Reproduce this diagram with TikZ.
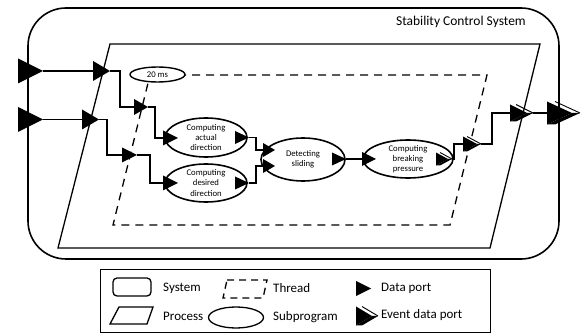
\documentclass[tikz,border=0pt]{standalone}
\usepackage{fontspec}
\setmainfont{Carlito}
\usetikzlibrary{shapes.geometric,calc}
\newcommand{\EvTail}[2]{%
  \fill (#1.right corner) -- (#1.apex) -- ([xshift=#2]#1.apex) -- ([xshift=#2]#1.right corner) -- cycle;
  \draw[line width=0.9pt] ([xshift=#2]#1.left corner) -- ([xshift=#2]#1.apex);
}
\begin{document}
\begin{tikzpicture}[x=1pt,y=-1pt,
  sub/.style={draw,ellipse,line width=1.6pt,fill=white,inner sep=0pt},
  lbl/.style={align=center,inner sep=0pt,font=\fontsize{8.7}{10.3}\selectfont},
  leg/.style={anchor=west,inner sep=0pt,font=\fontsize{13}{15}\selectfont},
  port/.style={isosceles triangle,isosceles triangle stretches,shape border rotate=0,
    fill=black,draw=none,inner sep=0pt,outer sep=0pt,anchor=lower side},
  conn/.style={line width=1.2pt},
  thr/.style={line width=1.3pt,dash pattern=on 8pt off 6pt},
]
\useasboundingbox (0,0) rectangle (582,334);

% system
\draw[line width=1.6pt,rounded corners=38pt] (28,8) rectangle (559,259);
\node[anchor=east,inner sep=0pt,font=\fontsize{13.5}{15}\selectfont] (title) at (526,22) {Stability Control System};

% process
\draw[line width=1.3pt] (110,44) -- (540,44) -- (490,248) -- (58,248) -- cycle;

% thread
\draw[thr] (150,75) -- (487,75) -- (450,225) -- (113,225) -- cycle;
\node[sub,minimum width=55,minimum height=15,line width=1.4pt] (ms) at (157.5,74.5) {};
\node[lbl] (mslbl) at (ms) {20 ms};

% subprograms
\node[sub,minimum width=82,minimum height=39] (act) at (206,137.5) {};
\node[lbl] (actlbl) at (act) {Computing\\actual\\direction};
\node[sub,minimum width=82,minimum height=38] (des) at (206,183) {};
\node[lbl] (deslbl) at (des) {Computing\\desired\\direction};
\node[sub,minimum width=84,minimum height=43] (det) at (303,159.5) {};
\node[lbl] (detlbl) at (det) {Detecting\\sliding};
\node[sub,minimum width=90,minimum height=38] (brk) at (408,159) {};
\node[lbl] (brklbl) at (brk) {Computing\\breaking\\pressure};

% ports
\node[port,minimum width=25,minimum height=25] (sin1) at (18,71) {};
\node[port,minimum width=25,minimum height=25] (sin2) at (18,119.5) {};
\node[port,minimum width=20,minimum height=17] (pin1) at (93,71) {};
\node[port,minimum width=20,minimum height=17] (pin2) at (82,119.5) {};
\node[port,minimum width=16,minimum height=14] (tin1) at (134,107) {};
\node[port,minimum width=15,minimum height=15] (tin2) at (122,155) {};
\node[port,minimum width=15,minimum height=15] (ain) at (163,138) {};
\node[port,minimum width=15,minimum height=15] (din) at (163,183) {};
\node[port,minimum width=13,minimum height=14] (aout) at (235,137.5) {};
\node[port,minimum width=13,minimum height=14] (dout) at (235,183) {};
\node[port,minimum width=14,minimum height=12] (detin1) at (263,150) {};
\node[port,minimum width=14,minimum height=12] (detin2) at (263,166) {};
\node[port,minimum width=13,minimum height=14] (detout) at (332,159) {};
\node[port,minimum width=14,minimum height=14] (bin) at (362,159) {};
\node[port,minimum width=13,minimum height=12] (bout) at (436,159) {};
\EvTail{bout}{4pt}
\node[port,minimum width=15,minimum height=14] (tout) at (463,144) {};
\EvTail{tout}{4pt}
\node[port,minimum width=17,minimum height=17] (pout) at (510,113) {};
\EvTail{pout}{6pt}
\node[port,minimum width=23,minimum height=25] (sout) at (547,113) {};
\EvTail{sout}{8pt}

% connectors
\draw[conn] (sin1.apex) -- (pin1.lower side);
\draw[conn] (pin1.apex) -- ++(10,0) |- (tin1.lower side);
\draw[conn] (tin1.apex) -- ++(7,0) |- (ain.lower side);
\draw[conn] (sin2.apex) -- (pin2.lower side);
\draw[conn] (pin2.apex) -- ++(8,0) |- (tin2.lower side);
\draw[conn] (tin2.apex) -- ++(13,0) |- (din.lower side);
\draw[conn] (aout.apex) -- ++(7,0) |- (detin1.lower side);
\draw[conn] (dout.apex) -- ++(7,0) |- (detin2.lower side);
\draw[conn] (detout.apex) -- (bin.lower side);
\draw[conn] ([xshift=4pt]bout.apex) -- ++(2,0) |- (tout.lower side);
\draw[conn] ([xshift=4pt]tout.apex) -- ++(11,0) |- (pout.lower side);
\draw[conn] ([xshift=6pt]pout.apex) -- (sout.lower side);

% legend
\draw[line width=1pt] (100,270) rectangle (490,333);
\draw[line width=1.3pt,rounded corners=4pt] (113,278) rectangle (151,296);
\node[leg] (lsys) at (163,288) {System};
\draw[line width=1.3pt] (119,307) -- (153,307) -- (147,324) -- (110,324) -- cycle;
\node[leg] (lproc) at (163,316.5) {Process};
\draw[line width=1.3pt,dash pattern=on 7pt off 5pt] (227,280) -- (267,280) -- (263,298) -- (223,298) -- cycle;
\node[leg] (lthr) at (273,288) {Thread};
\node[sub,minimum width=55,minimum height=21,line width=1.3pt] (lsub) at (236,317.5) {};
\node[leg] (lsubt) at (273,317.5) {Subprogram};
\node[port,minimum width=15,minimum height=15] (ldp) at (356,288.5) {};
\node[leg] (ldpt) at (381,288) {Data port};
\node[port,minimum width=19,minimum height=16] (lep) at (356,316) {};
\EvTail{lep}{6pt}
\node[leg] (lept) at (381,315) {Event data port};
\end{tikzpicture}
\end{document}
